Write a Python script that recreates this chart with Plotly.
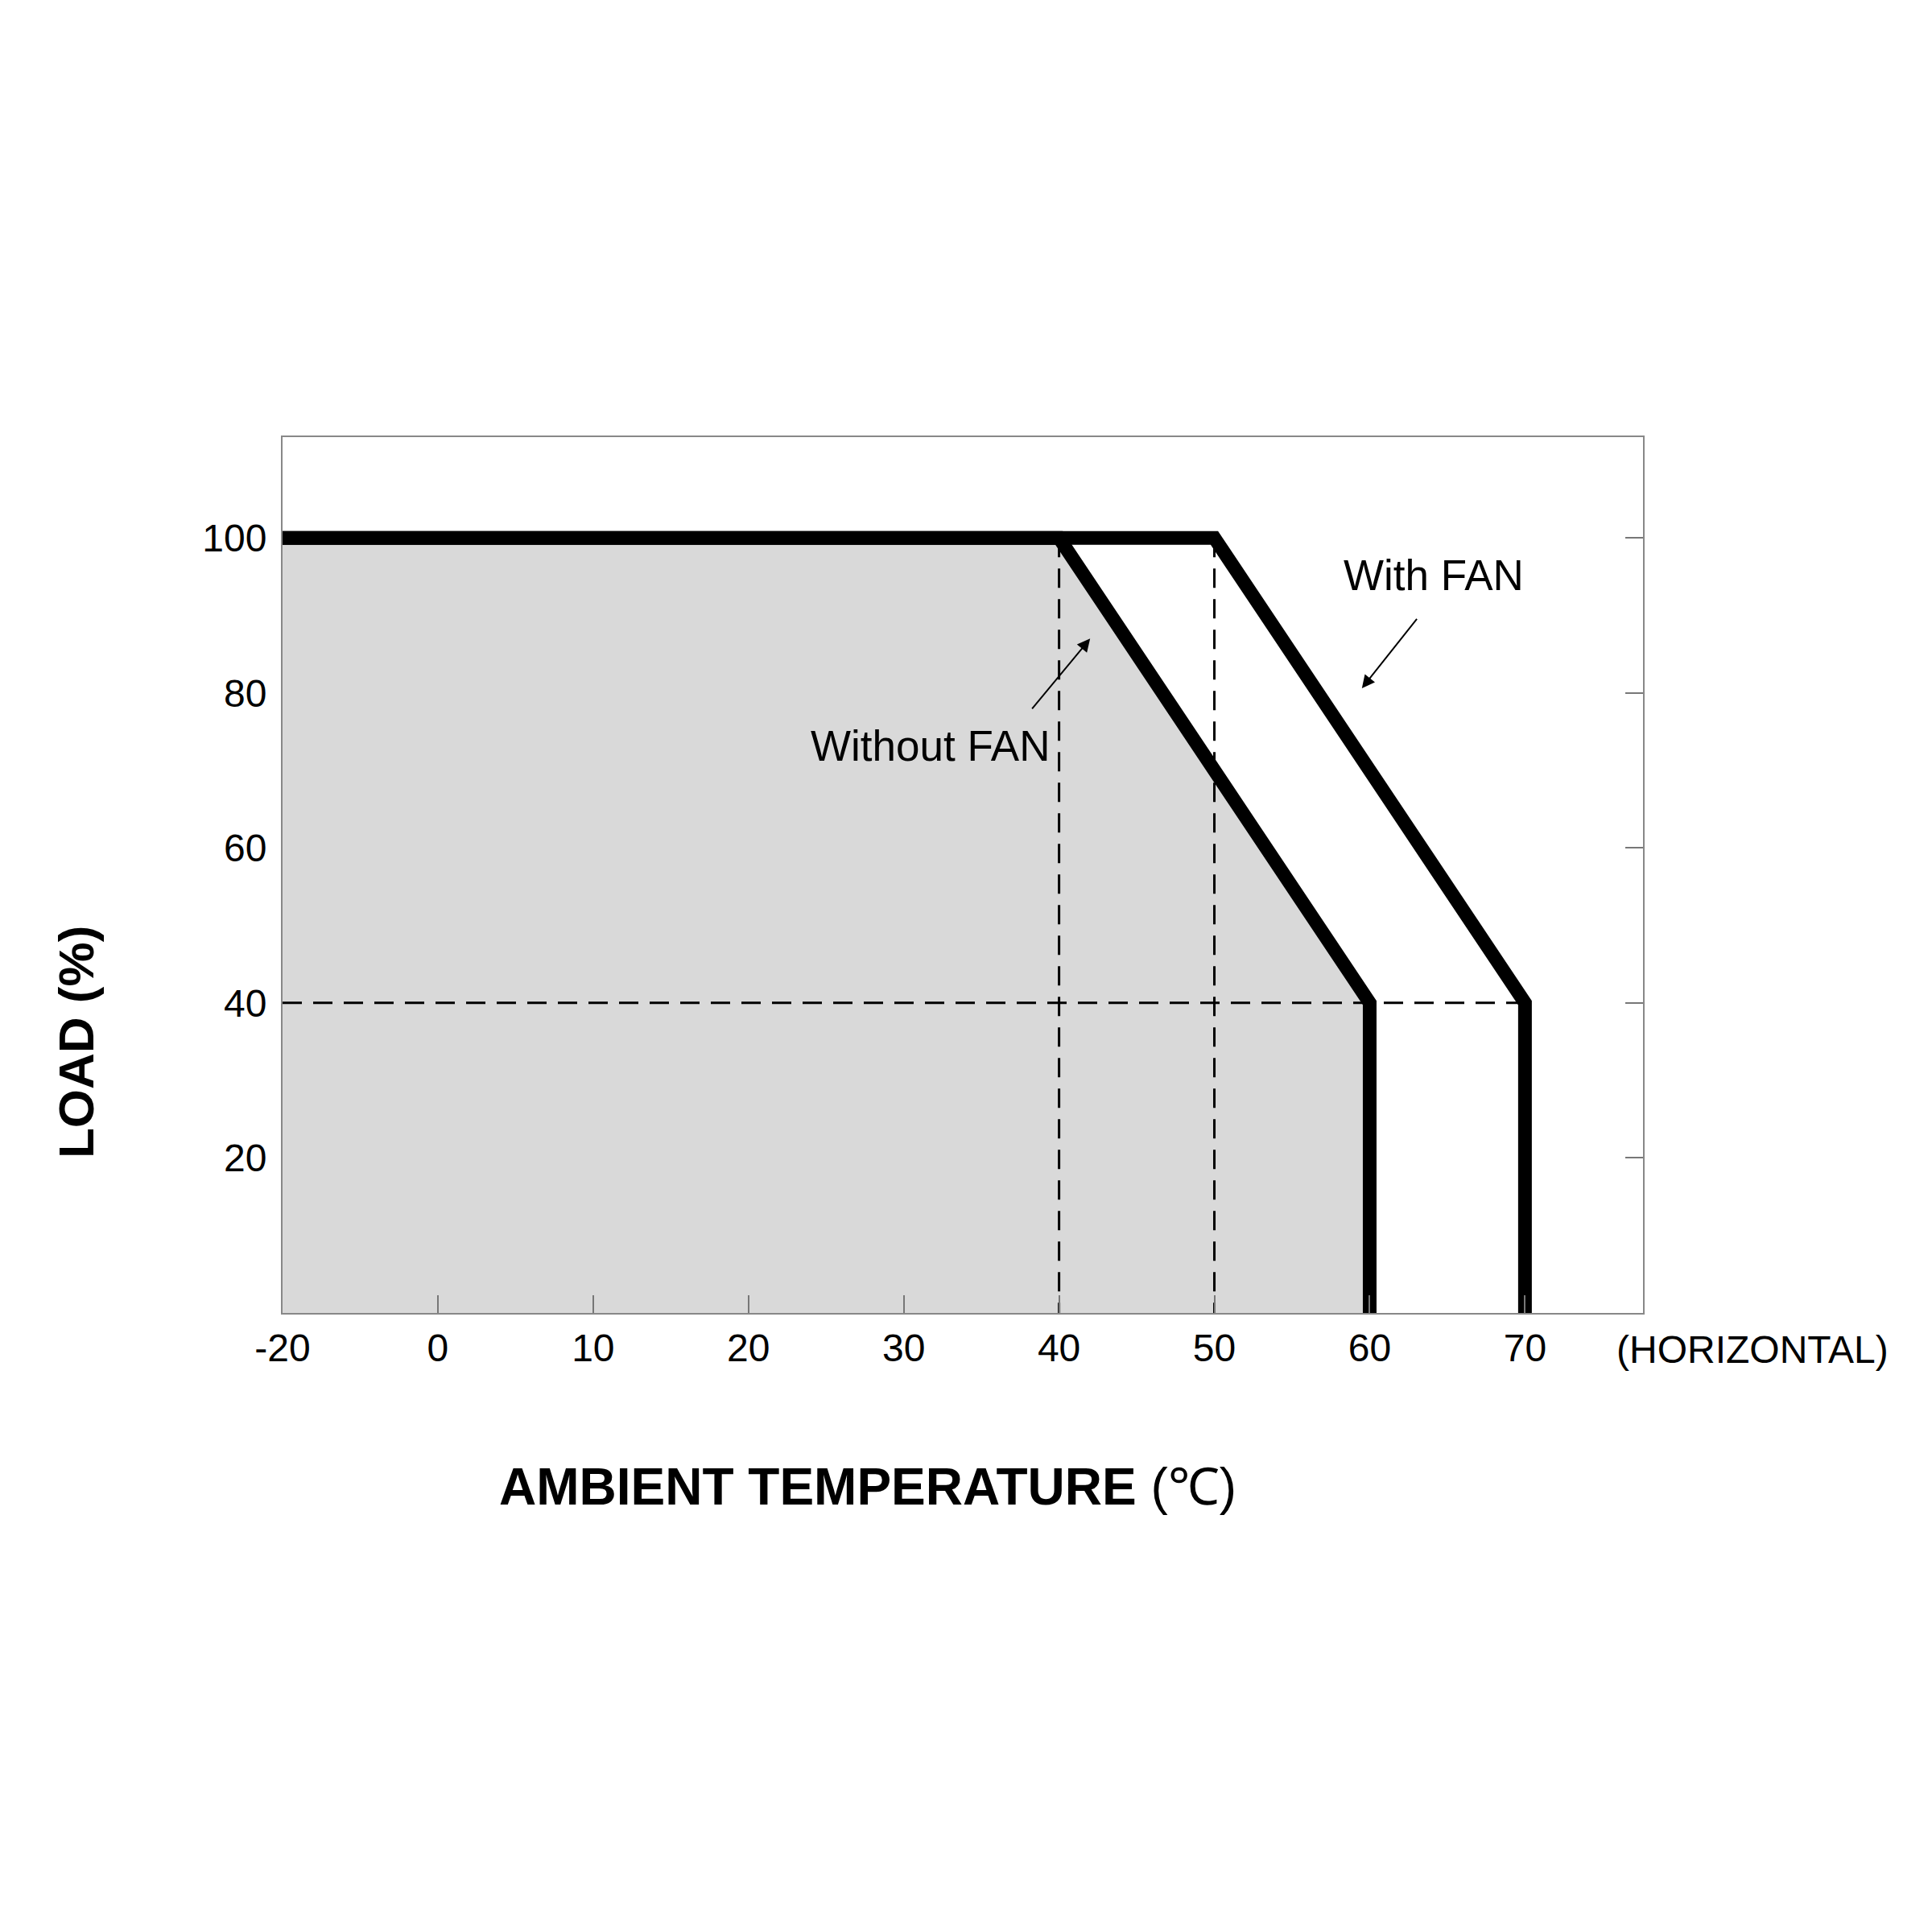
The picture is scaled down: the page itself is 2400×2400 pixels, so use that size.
import plotly.graph_objects as go

# ---- data ----
temp_ticks = [-20, 0, 10, 20, 30, 40, 50, 60, 70]
load_ticks = [20, 40, 60, 80, 100]

without_fan_temp = [-20, 40, 60, 60]
without_fan_load = [100, 100, 40, 0]

with_fan_temp = [-20, 50, 70, 70]
with_fan_load = [100, 100, 40, 0]

guide_v_temp = [40, 50]
guide_h_load = 40
guide_h_temp = [-20, 70]

# axis break: the "-20" tick sits one tick spacing left of 0
def pos(t):
    return -10 if t == -20 else t

X_RANGE = [-10, 77.6]
Y_RANGE = [0, 113]

# plot area in pixels
L, R, T, B = 343, 2033, 535, 1623
W, H = 2400, 2400

FONT = "Liberation Sans, Arial"

fig = go.Figure()

# shaded area under the "without FAN" curve
fig.add_trace(go.Scatter(
    x=[pos(t) for t in without_fan_temp], y=without_fan_load,
    mode="lines", line=dict(width=0), fill="tozeroy", fillcolor="#d9d9d9",
    hoverinfo="skip", showlegend=False))

# dashed guides
for t in guide_v_temp:
    fig.add_trace(go.Scatter(x=[pos(t), pos(t)], y=[100, 0], mode="lines",
                             line=dict(color="black", width=3, dash="24px,14px"),
                             showlegend=False, hoverinfo="skip"))
fig.add_trace(go.Scatter(x=[pos(t) for t in guide_h_temp], y=[guide_h_load] * 2, mode="lines",
                         line=dict(color="black", width=3, dash="24px,14px"),
                         showlegend=False, hoverinfo="skip"))

# curves
fig.add_trace(go.Scatter(x=[pos(t) for t in with_fan_temp], y=with_fan_load, mode="lines",
                         line=dict(color="black", width=17), showlegend=False))
fig.add_trace(go.Scatter(x=[pos(t) for t in without_fan_temp], y=without_fan_load, mode="lines",
                         line=dict(color="black", width=17), showlegend=False))

fig.update_layout(
    width=W, height=H,
    margin=dict(l=L, r=W - R, t=T, b=H - B),
    paper_bgcolor="white", plot_bgcolor="white",
    font=dict(family=FONT, color="black"),
    xaxis=dict(range=X_RANGE, tickvals=[pos(t) for t in temp_ticks],
               ticktext=[str(t) for t in temp_ticks],
               ticks="inside", ticklen=22, tickwidth=2, tickcolor="#777",
               showline=True, linecolor="#888", linewidth=2, mirror=True,
               showgrid=False, zeroline=False,
               tickfont=dict(size=48, family=FONT), ticklabelstandoff=0),
    yaxis=dict(range=Y_RANGE, tickvals=load_ticks, ticktext=[str(v) for v in load_ticks],
               ticks="", showline=True, linecolor="#888", linewidth=2, mirror=True,
               showgrid=False, zeroline=False,
               tickfont=dict(size=48, family=FONT), ticklabelstandoff=8),
    yaxis2=dict(range=Y_RANGE, overlaying="y", side="right", tickvals=load_ticks,
                ticks="inside", ticklen=22, tickwidth=2, tickcolor="#777",
                showticklabels=False, showgrid=False, zeroline=False, showline=False),
)
# dummy trace to activate yaxis2
fig.add_trace(go.Scatter(x=[None], y=[None], yaxis="y2", showlegend=False))

def px(xp):
    return (xp - L) / (R - L)

def py(yp):
    return (B - yp) / (B - T)

annos = [
    dict(text="With FAN", x=64.1, y=95.2, xref="x", yref="y", showarrow=False,
         font=dict(size=53)),
    dict(text="Without FAN", x=31.7, y=73.2, xref="x", yref="y", showarrow=False,
         font=dict(size=53)),
    dict(text="", x=59.5, y=80.6, ax=63.1, ay=89.7, xref="x", yref="y", axref="x", ayref="y",
         showarrow=True, arrowhead=2, arrowsize=1.6, arrowwidth=2, arrowcolor="black"),
    dict(text="", x=42.0, y=87.0, ax=38.2, ay=77.8, xref="x", yref="y", axref="x", ayref="y",
         showarrow=True, arrowhead=2, arrowsize=1.6, arrowwidth=2, arrowcolor="black"),
    dict(text="(HORIZONTAL)", x=px(1998), y=py(1668), xref="paper", yref="paper",
         xanchor="left", yanchor="middle", showarrow=False, font=dict(size=48)),
    dict(text="<b>AMBIENT TEMPERATURE </b>(℃)", x=px(1070), y=py(1839), xref="paper", yref="paper",
         xanchor="center", yanchor="middle", showarrow=False, font=dict(size=64)),
    dict(text="<b>LOAD (%)</b>", x=px(86), y=py(1287), xref="paper", yref="paper",
         xanchor="center", yanchor="middle", textangle=-90, showarrow=False, font=dict(size=62)),
]
fig.update_layout(annotations=annos)

fig.write_html("out.html")
